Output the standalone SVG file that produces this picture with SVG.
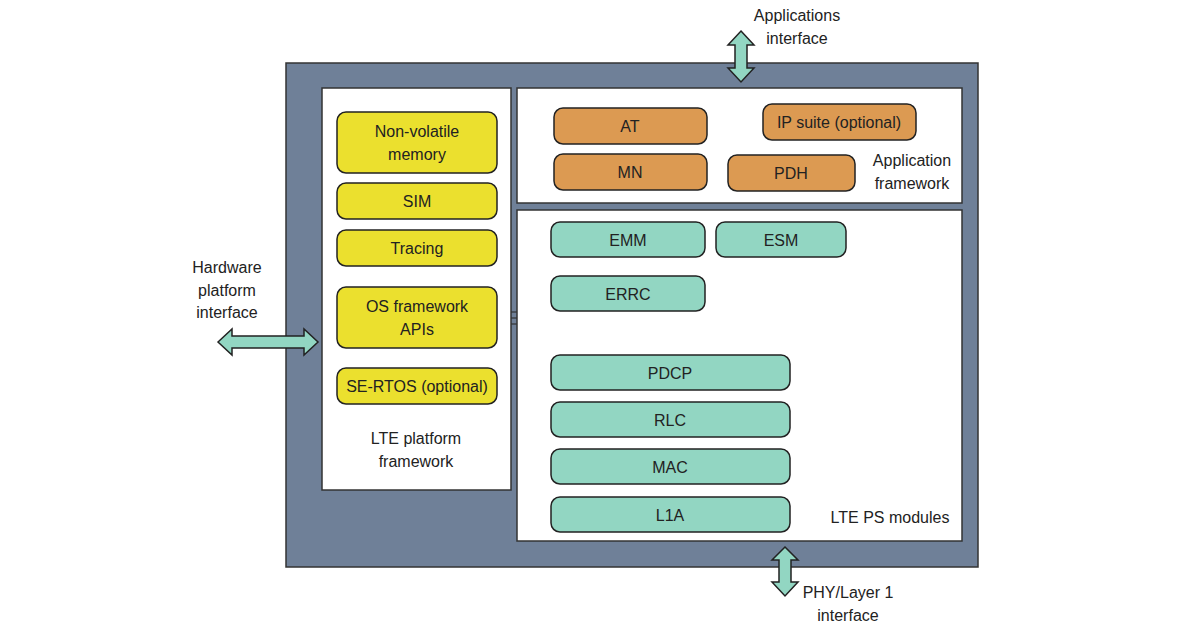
<svg xmlns="http://www.w3.org/2000/svg" width="1200" height="630" viewBox="0 0 1200 630">
<style>
text{font-family:"Liberation Sans",Arial,sans-serif;font-size:16px;fill:#222;text-anchor:middle}
.y{fill:#ebe02e;stroke:#222;stroke-width:1.5}
.o{fill:#dc9a52;stroke:#222;stroke-width:1.5}
.g{fill:#92d6c2;stroke:#222;stroke-width:1.5}
.p{fill:#fff;stroke:#333;stroke-width:1.5}
.a{fill:#92d6c2;stroke:#222;stroke-width:1.5}
</style>
<rect width="1200" height="630" fill="#fff"/>
<g id="outer"><rect x="286" y="63" width="692" height="504" fill="#6f8098" stroke="#333" stroke-width="1.5"/></g>
<g id="platform"><rect class="p" x="322" y="88" width="189" height="402"/><text x="416" y="444">LTE platform</text><text x="416" y="467">framework</text></g>
<g id="appfw"><rect class="p" x="517" y="88" width="445" height="115"/><text x="912" y="166">Application</text><text x="912" y="189">framework</text></g>
<g id="psmod"><rect class="p" x="517" y="210" width="445" height="331"/><text x="890" y="523">LTE PS modules</text></g>
<g id="nvm"><rect class="y" x="337" y="112" width="160" height="61" rx="9"/><text x="417" y="137">Non-volatile</text><text x="417" y="160">memory</text></g>
<g id="sim"><rect class="y" x="337" y="183" width="160" height="36" rx="9"/><text x="417" y="207">SIM</text></g>
<g id="tracing"><rect class="y" x="337" y="230" width="160" height="36" rx="9"/><text x="417" y="254">Tracing</text></g>
<g id="os"><rect class="y" x="337" y="287" width="160" height="61" rx="9"/><text x="417" y="312">OS framework</text><text x="417" y="335">APIs</text></g>
<g id="rtos"><rect class="y" x="337" y="368" width="160" height="36" rx="9"/><text x="417" y="392">SE-RTOS (optional)</text></g>
<g id="at"><rect class="o" x="554" y="108" width="153" height="36" rx="9"/><text x="630" y="132">AT</text></g>
<g id="ip"><rect class="o" x="763" y="104" width="153" height="36" rx="9"/><text x="839" y="128">IP suite (optional)</text></g>
<g id="mn"><rect class="o" x="554" y="154" width="153" height="36" rx="9"/><text x="630" y="178">MN</text></g>
<g id="pdh"><rect class="o" x="728" y="155" width="127" height="36" rx="9"/><text x="791" y="179">PDH</text></g>
<g id="emm"><rect class="g" x="551" y="222" width="154" height="35" rx="9"/><text x="628" y="246">EMM</text></g>
<g id="esm"><rect class="g" x="716" y="222" width="130" height="35" rx="9"/><text x="781" y="246">ESM</text></g>
<g id="errc"><rect class="g" x="551" y="276" width="154" height="35" rx="9"/><text x="628" y="300">ERRC</text></g>
<g id="pdcp"><rect class="g" x="551" y="355" width="239" height="35" rx="9"/><text x="670" y="379">PDCP</text></g>
<g id="rlc"><rect class="g" x="551" y="402" width="239" height="35" rx="9"/><text x="670" y="426">RLC</text></g>
<g id="mac"><rect class="g" x="551" y="449" width="239" height="35" rx="9"/><text x="670" y="473">MAC</text></g>
<g id="l1a"><rect class="g" x="551" y="497" width="239" height="35" rx="9"/><text x="670" y="521">L1A</text></g>
<g id="labels"><text x="797" y="21">Applications</text><text x="797" y="44">interface</text>
<text x="227" y="273">Hardware</text><text x="227" y="296">platform</text><text x="227" y="318">interface</text>
<text x="848" y="598">PHY/Layer 1</text><text x="848" y="621">interface</text></g>
<g id="connectors">
<polygon class="a" points="741,31 754,45 747,45 747,68 754,68 741,82 728,68 735,68 735,45 728,45"/>
<polygon class="a" points="218,342 232,329 232,336 304,336 304,329 318,342 304,355 304,348 232,348 232,355"/>
<polygon class="a" points="785,547 798,560 791,560 791,582 798,582 785,596 772,582 779,582 779,560 772,560"/>
<g stroke="#333" stroke-width="1.2"><line x1="511" y1="312" x2="517" y2="312"/><line x1="511" y1="318" x2="517" y2="318"/><line x1="511" y1="324" x2="517" y2="324"/></g>
</g>
</svg>
